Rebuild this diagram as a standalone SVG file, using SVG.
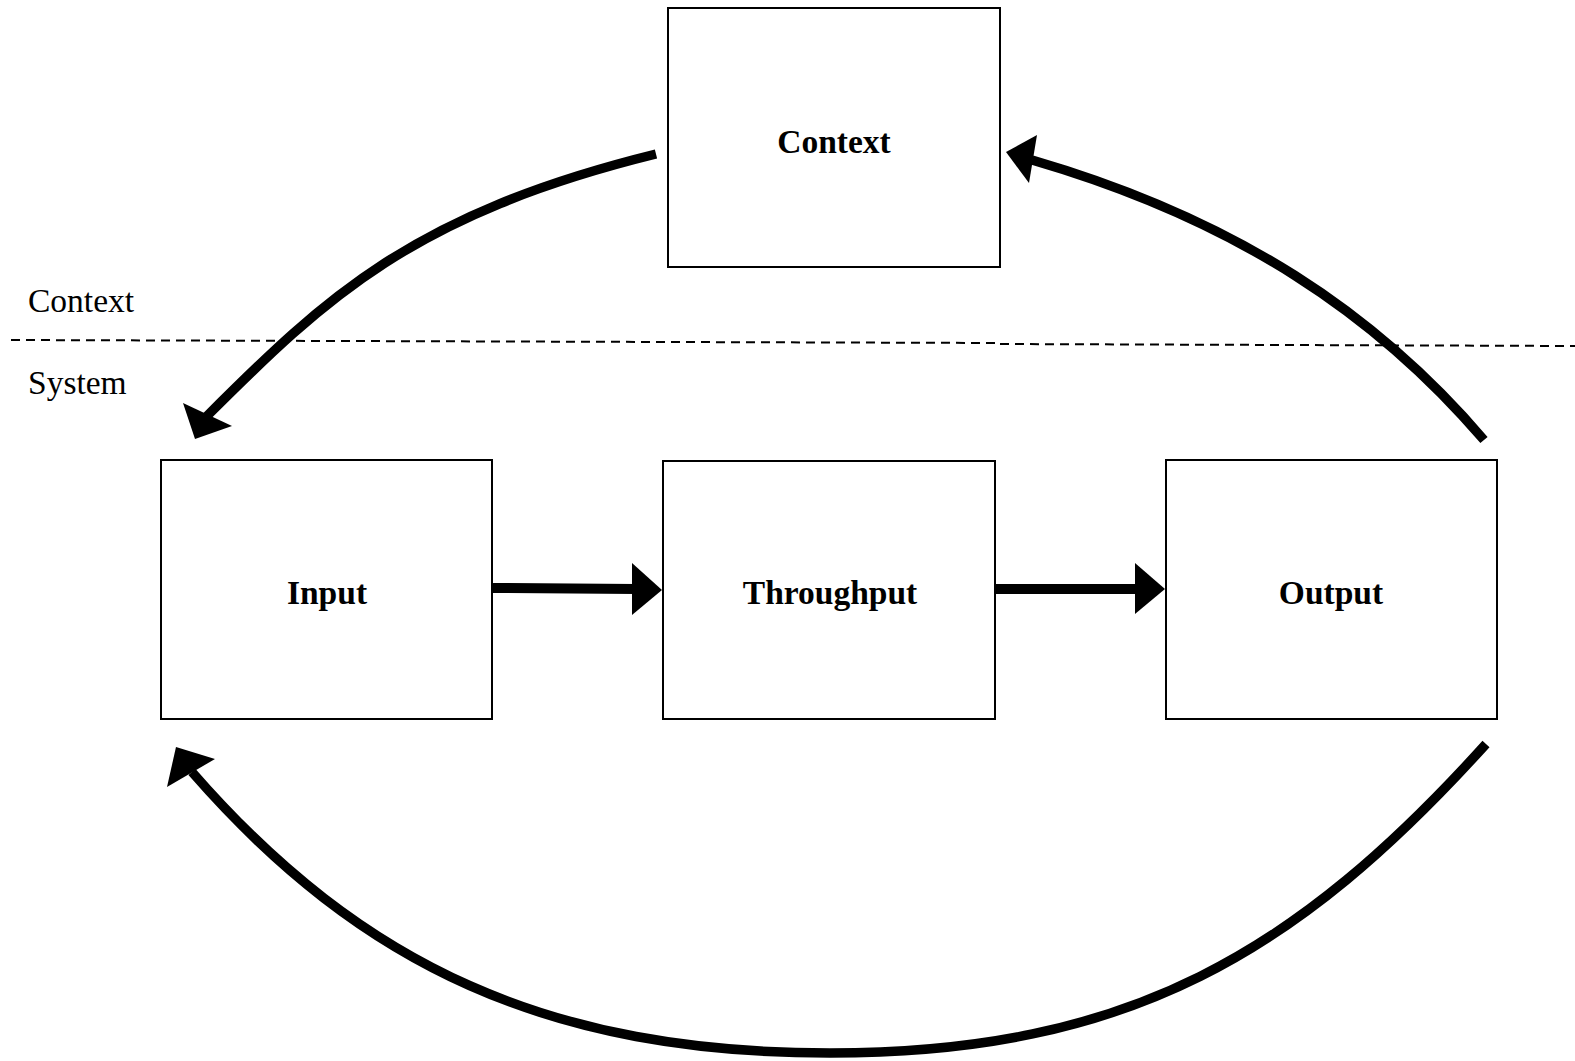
<svg xmlns="http://www.w3.org/2000/svg" width="1575" height="1061" viewBox="0 0 1575 1061">
<style>
.box{fill:#fff;stroke:#000;stroke-width:2}
.lbl{font-family:"Liberation Serif","Times New Roman",serif;font-size:33.5px;font-weight:bold;text-anchor:middle;fill:#000}
.side{font-family:"Liberation Serif","Times New Roman",serif;font-size:33.5px;fill:#000}
.arc{fill:none;stroke:#000;stroke-width:9.5}
.head{fill:#000;stroke:none}
.dash{fill:none;stroke:#000;stroke-width:2;stroke-dasharray:9 6}
</style>
<rect width="1575" height="1061" fill="#fff"/>
<g id="boundary">
<line class="dash" x1="11" y1="340" x2="1000" y2="343"/>
<line class="dash" x1="1000" y1="344" x2="1575" y2="346"/>
<text class="side" x="28" y="312">Context</text>
<text class="side" x="28" y="394">System</text>
</g>
<g id="connectors">
<path class="arc" d="M656,154 C413,214 326,297 206,417"/>
<polygon class="head" points="195,439 183,403 232,426"/>
<path class="arc" d="M1484,440 C1377,315 1238,220 1032,160"/>
<polygon class="head" points="1006,152 1037,135 1029,183"/>
<path class="arc" d="M1486,744 C1298,952 1130,1053 830,1053 C550,1053 362,967 192,772"/>
<polygon class="head" points="176,747 167,787 215,759"/>
<line x1="493" y1="588" x2="636" y2="589" stroke="#000" stroke-width="10"/>
<polygon class="head" points="632,563 662,590 632,615"/>
<line x1="996" y1="589" x2="1138" y2="589" stroke="#000" stroke-width="10"/>
<polygon class="head" points="1135,563 1165,589 1135,614"/>
</g>
<g id="node-context">
<rect class="box" x="668" y="8" width="332" height="259"/>
<text class="lbl" x="834" y="153">Context</text>
</g>
<g id="node-input">
<rect class="box" x="161" y="460" width="331" height="259"/>
<text class="lbl" x="327" y="604">Input</text>
</g>
<g id="node-throughput">
<rect class="box" x="663" y="461" width="332" height="258"/>
<text class="lbl" x="830" y="604">Throughput</text>
</g>
<g id="node-output">
<rect class="box" x="1166" y="460" width="331" height="259"/>
<text class="lbl" x="1331" y="604">Output</text>
</g>
</svg>
